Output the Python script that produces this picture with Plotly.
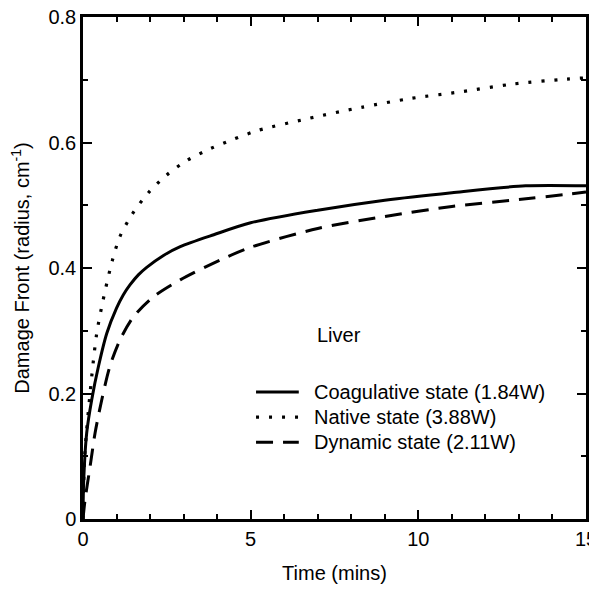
import plotly.graph_objects as go

# Data
coag_t = [0, 0.02, 0.11, 0.26, 0.46, 0.71, 1.0, 1.2, 1.4, 1.65, 1.9, 2.4, 2.9, 3.9, 5.0, 7.0, 9.0, 11.0, 13.2, 15]
coag_v = [0, 0.06, 0.137, 0.19, 0.243, 0.296, 0.336, 0.357, 0.373, 0.389, 0.401, 0.42, 0.434, 0.453, 0.472, 0.492, 0.508, 0.52, 0.531, 0.531]

native_t = [0, 0.05, 0.26, 0.41, 0.6, 0.87, 1.1, 1.47, 1.95, 2.49, 3.09, 3.79, 4.48, 5.2, 6.7, 8.3, 9.75, 11.3, 12.8, 14.4, 15]
native_v = [0, 0.1, 0.227, 0.296, 0.349, 0.411, 0.45, 0.486, 0.52, 0.548, 0.571, 0.59, 0.605, 0.619, 0.638, 0.656, 0.67, 0.681, 0.693, 0.701, 0.703]

dyn_t = [0, 0.06, 0.21, 0.36, 0.56, 0.8, 1.1, 1.5, 2.1, 2.9, 4.1, 5.0, 7.0, 9.0, 11.0, 13.0, 15]
dyn_v = [0, 0.03, 0.083, 0.137, 0.19, 0.243, 0.285, 0.322, 0.354, 0.381, 0.413, 0.433, 0.463, 0.482, 0.498, 0.509, 0.521]

names = ["Coagulative state (1.84W)", "Native state (3.88W)", "Dynamic state (2.11W)"]
x_ticks = [0, 5, 10, 15]
y_ticks = [0, 0.2, 0.4, 0.6, 0.8]
y_tick_text = ["0", "0.2", "0.4", "0.6", "0.8"]

FONT = "Liberation Sans, Arial, Helvetica, sans-serif"
FS = 20

styles = [
    dict(color="black", width=3),
    dict(color="black", width=3.2, dash="3px,10px"),
    dict(color="black", width=3, dash="17px,10px"),
]
series = [(coag_t, coag_v), (native_t, native_v), (dyn_t, dyn_v)]

fig = go.Figure()
for (t, v), name, st in zip(series, names, styles):
    fig.add_trace(go.Scatter(x=t, y=v, mode="lines", name=name, showlegend=False,
                             line=dict(shape="spline", smoothing=0.8, **st)))

axis_common = dict(
    showline=True, linecolor="black", linewidth=2.5, mirror="allticks",
    ticks="inside", ticklen=9, tickwidth=2, tickcolor="black",
    showgrid=False, zeroline=False, automargin=False, ticklabeloverflow="allow",
    tickfont=dict(family=FONT, size=FS, color="black"),
)

fig.update_xaxes(range=[0, 15], tickvals=x_ticks, ticktext=[str(v) for v in x_ticks],
                 minor=dict(dtick=1, ticks="inside", ticklen=5, tickwidth=2, tickcolor="black"),
                 title=dict(text="Time (mins)", font=dict(family=FONT, size=FS, color="black"), standoff=18),
                 **axis_common)
fig.update_yaxes(range=[0, 0.8], tickvals=y_ticks, ticktext=y_tick_text,
                 minor=dict(dtick=0.1, ticks="inside", ticklen=5, tickwidth=2, tickcolor="black"),
                 title=dict(text="Damage Front (radius, cm<sup>-1</sup>)", font=dict(family=FONT, size=FS, color="black"), standoff=23),
                 **axis_common)

fig.add_annotation(text="Liver", xref="paper", yref="paper", x=0.462, y=0.367,
                   xanchor="left", yanchor="middle", showarrow=False,
                   font=dict(family=FONT, size=FS, color="black"))

# Legend key (drawn manually to match the reference spacing)
leg_rows = [0.253, 0.203, 0.153]
for name, st, yy in zip(names, styles, leg_rows):
    fig.add_shape(type="line", xref="paper", yref="paper", x0=0.344, x1=0.429, y0=yy, y1=yy,
                  line=st)
    fig.add_annotation(text=name, xref="paper", yref="paper", x=0.455, y=yy,
                       xanchor="left", yanchor="middle", showarrow=False,
                       font=dict(family=FONT, size=FS, color="black"))

fig.update_layout(
    width=597, height=589,
    margin=dict(l=75, r=19, t=9, b=78),
    paper_bgcolor="white", plot_bgcolor="white",
    showlegend=False,
)

fig.write_html("out.html")
